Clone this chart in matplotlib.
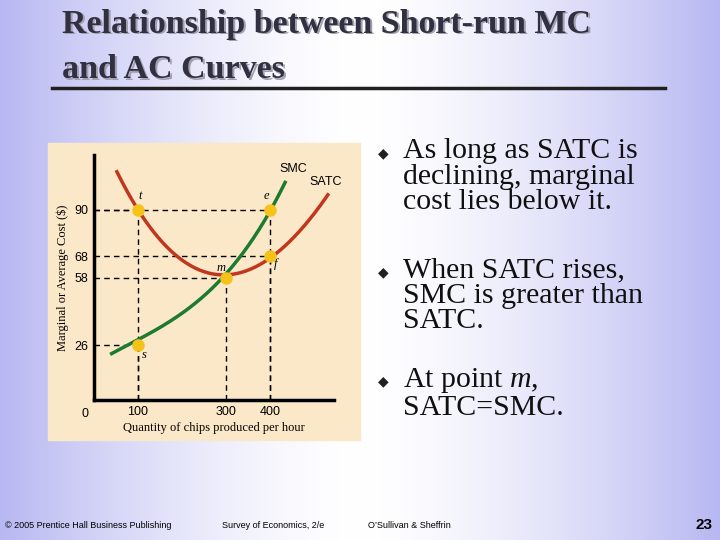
import numpy as np
import matplotlib
matplotlib.use("Agg")
import matplotlib.pyplot as plt

plt.rcParams["mathtext.fontset"] = "custom"
plt.rcParams["mathtext.it"] = "Liberation Serif:italic"
plt.rcParams["mathtext.rm"] = "Liberation Serif"

smc_x = [40, 100, 200, 300, 400, 434]
smc_y = [23, 26, 44, 58, 90, 103]
satc_x = [52, 100, 200, 300, 400, 531]
satc_y = [108, 90, 67, 58, 68, 97]
pts = {"t": (100, 90), "e": (400, 90), "f": (400, 68), "m": (300, 58), "s": (100, 26)}
xticks = [100, 300, 400]
yticks = [26, 58, 68, 90]
bullets = ["As long as SATC is\ndeclining, marginal\ncost lies below it.",
           "When SATC rises,\nSMC is greater than\nSATC.",
           "At point $m$,\nSATC=SMC."]

W, H = 720, 540
fig = plt.figure(figsize=(7.2, 5.4), dpi=100)
bg = fig.add_axes([0, 0, 1, 1])
xs = np.linspace(-1, 1, 300)
g = np.abs(xs) ** 1.5
c0 = np.array([1.0, 1.0, 1.0]); c1 = np.array([0.72, 0.72, 0.95])
img = (c0[None, :] * (1 - g[:, None]) + c1[None, :] * g[:, None])[None, :, :]
bg.imshow(img, aspect="auto", extent=[0, 1, 0, 1])
bg.set_xlim(0, 1); bg.set_ylim(0, 1); bg.axis("off")

def fx(p): return p / W
def fy(p): return 1 - p / H

serif = "Liberation Serif"
for dx, dy, col in [(1.5, 1.5, "#a0a0b0"), (0, 0, "#303040")]:
    bg.text(fx(62 + dx), fy(24 + dy), "Relationship between Short-run MC", family=serif,
            fontsize=24.5, weight="bold", color=col, va="center")
    bg.text(fx(62 + dx), fy(70 + dy), "and AC Curves", family=serif,
            fontsize=24.5, weight="bold", color=col, va="center")
bg.plot([fx(52), fx(665)], [fy(88), fy(88)], color="#202020", lw=2.5)

# panel
bg.add_patch(plt.Rectangle((fx(48), fy(440)), fx(312), 297 / H, color="#fbe8c8", zorder=1))

ax = fig.add_axes([fx(94), fy(400), 240 / W, 245 / H])
ax.set_xlim(0, 545); ax.set_ylim(0, 116)
ax.patch.set_alpha(0)
for s in ["top", "right"]:
    ax.spines[s].set_visible(False)
for s in ["left", "bottom"]:
    ax.spines[s].set_linewidth(2.5)
ax.tick_params(length=0, labelsize=9, pad=4)
ax.set_xticks(xticks); ax.set_yticks(yticks)
for l in ax.get_xticklabels() + ax.get_yticklabels():
    l.set_family("Liberation Sans")
ax.text(-12, -4, "0", ha="right", va="top", fontsize=9, family="Liberation Sans")

cs = np.polyfit(smc_x, smc_y, 3)
xx = np.linspace(smc_x[0], smc_x[-1], 200)
ax.plot(xx, np.polyval(cs, xx), color="#1e7a2e", lw=2.5, zorder=3)
ca = np.polyfit(satc_x, satc_y, 3)
xx2 = np.linspace(satc_x[0], satc_x[-1], 200)
ax.plot(xx2, np.polyval(ca, xx2), color="#c0361e", lw=2.5, zorder=3)

for k, (x, y) in pts.items():
    ax.plot([0, x], [y, y], ls="--", color="k", lw=1, dashes=(4, 3), zorder=2)
    ax.plot([x, x], [0, y], ls="--", color="k", lw=1, dashes=(4, 3), zorder=2)
    ax.plot(x, y, "o", color="#f5c21a", ms=8, zorder=4)
off = {"t": (2, 5), "e": (-15, 5), "f": (8, -5), "m": (-22, 3), "s": (8, -6)}
for k, (x, y) in pts.items():
    ax.text(x + off[k][0], y + off[k][1], k, family=serif, style="italic", fontsize=9)
ax.text(420, 108, "SMC", fontsize=9, family="Liberation Sans")
ax.text(490, 102, "SATC", fontsize=9, family="Liberation Sans")
ax.set_xlabel("Quantity of chips produced per hour", family=serif, fontsize=9, labelpad=3)
ax.set_ylabel("Marginal or Average Cost ($)", family=serif, fontsize=9, labelpad=4)

for yb, txt in zip([153, 272, 381], bullets):
    bg.text(fx(378), fy(yb), "\u25c6", fontsize=10, color="#202020", va="center")
    bg.text(fx(403), fy(yb - 15), txt, family=serif, fontsize=21.5, va="top",
            linespacing=0.98, color="#101010")

foot = "Liberation Sans"
bg.text(fx(5), fy(525), "© 2005 Prentice Hall Business Publishing", fontsize=6.5, family=foot, va="center")
bg.text(fx(222), fy(525), "Survey of Economics, 2/e", fontsize=6.5, family=foot, va="center")
bg.text(fx(368), fy(525), "O\u2019Sullivan & Sheffrin", fontsize=6.5, family=foot, va="center")
bg.text(fx(712), fy(525), "23", fontsize=11, weight="bold", family=foot, va="center", ha="right")

fig.savefig("out.png", dpi=100)
